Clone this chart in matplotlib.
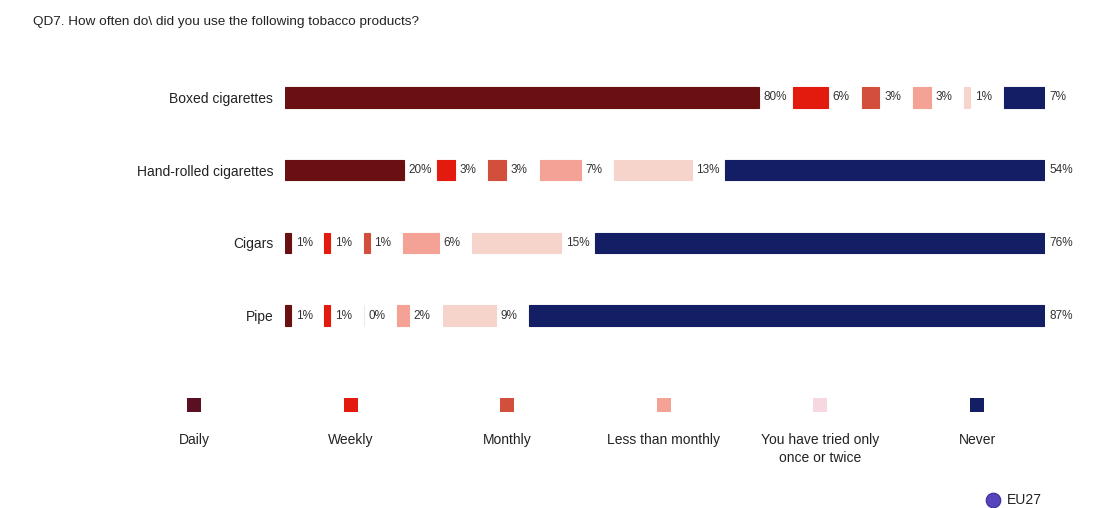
import numpy as np
import matplotlib.pyplot as plt

plt.rcParams['font.family'] = ['Liberation Sans Narrow', 'Liberation Sans', 'DejaVu Sans']

title = "QD7. How often do\\ did you use the following tobacco products?"
products = ["Boxed cigarettes", "Hand-rolled cigarettes", "Cigars", "Pipe"]
answers = ["Daily", "Weekly", "Monthly", "Less than monthly",
           "You have tried only\nonce or twice", "Never"]
colors = ["#6a0f12", "#e31a0e", "#d2503b", "#f4a196", "#f6d3cb", "#141e64"]
legend_colors = ["#5a0f22", "#e31a0e", "#d2503b", "#f4a196", "#f8d8e0", "#141e64"]

daily = [80, 20, 1, 1]
weekly = [6, 3, 1, 1]
monthly = [3, 3, 1, 0]
less_monthly = [3, 7, 6, 2]
tried_once = [1, 13, 15, 9]
never = [7, 54, 76, 87]
series = [daily, weekly, monthly, less_monthly, tried_once, never]

gap = 5.65  # space left for the label after each segment

fig = plt.figure(figsize=(10.94, 5.08), dpi=100)
fig.patch.set_facecolor("white")

ax = fig.add_axes([285 / 1094, 156 / 508, 760 / 1094, 291 / 508])
y = np.arange(len(products))
left = np.zeros(len(products))
for vals, col in zip(series, colors):
    vals = np.array(vals, dtype=float)
    ax.barh(y, vals, left=left, height=0.28, color=col,
            edgecolor=np.where(vals == 0, "#ececec", col).tolist(), linewidth=0.8)
    for yi, l, v in zip(y, left, vals):
        ax.text(l + v + 0.8, yi, f"{v:.0f}%", va="center", ha="left",
                fontsize=8.5, color="#333333")
    left = left + vals + gap

ax.set_xlim(0, 100 + 5 * gap)
ax.set_ylim(len(products) - 0.5, -0.5)
ax.set_yticks(y)
ax.set_yticklabels(products, fontsize=10, color="#222222")
ax.tick_params(axis="y", length=0, pad=8.5)
ax.tick_params(axis="x", bottom=False, labelbottom=False)
for s in ax.spines.values():
    s.set_visible(False)

fig.text(33 / 1094, 1 - 22 / 508, title, fontsize=9.7, color="#222222", va="center")

# legend row
lx = np.linspace(194, 977, len(answers)) / 1094
lax = fig.add_axes([0, 0, 1, 1])
lax.set_xlim(0, 1)
lax.set_ylim(0, 1)
lax.axis("off")
lax.scatter(lx, np.full(len(lx), 1 - 405 / 508), marker="s", s=100,
            c=legend_colors, linewidths=0)
for xi, lab in zip(lx, answers):
    lax.text(xi, 1 - 433 / 508, lab, ha="center", va="top", fontsize=10,
             color="#222222", linespacing=1.4)

lax.scatter([993 / 1094], [1 - 500 / 508], s=110, c="#5544bb",
            edgecolors="#3a2d99", linewidths=0.8)
lax.text(1007 / 1094, 1 - 500 / 508, "EU27", va="center", ha="left",
         fontsize=10, color="#222222")

fig.savefig("out.png", dpi=100, facecolor="white")
